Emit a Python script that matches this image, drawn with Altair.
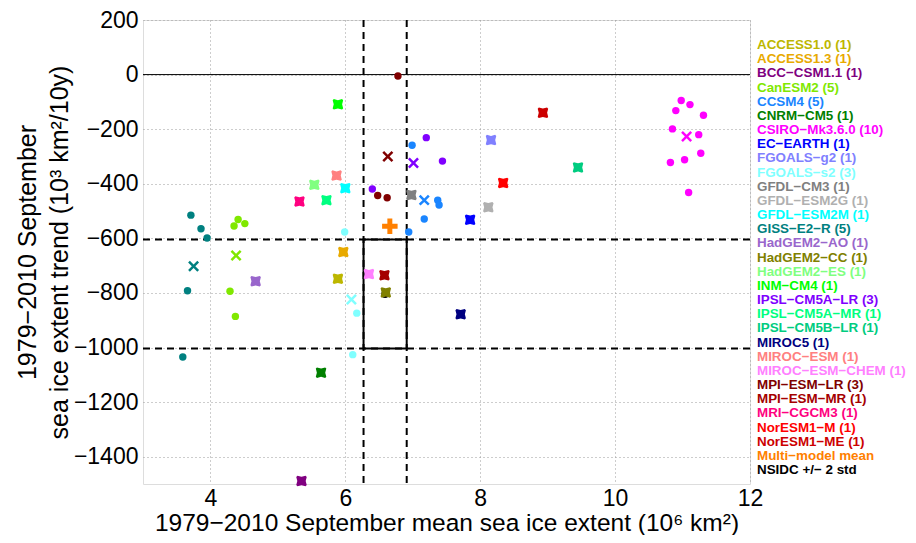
import altair as alt
import pandas as pd

# ---------------- data ----------------
models = ["ACCESS1.0", "ACCESS1.3", "BCC-CSM1.1", "CanESM2", "CCSM4", "CNRM-CM5",
          "CSIRO-Mk3.6.0", "EC-EARTH", "FGOALS-g2", "FGOALS-s2", "GFDL-CM3",
          "GFDL-ESM2G", "GFDL-ESM2M", "GISS-E2-R", "HadGEM2-AO", "HadGEM2-CC",
          "HadGEM2-ES", "INM-CM4", "IPSL-CM5A-LR", "IPSL-CM5A-MR", "IPSL-CM5B-LR",
          "MIROC5", "MIROC-ESM", "MIROC-ESM-CHEM", "MPI-ESM-LR", "MPI-ESM-MR",
          "MRI-CGCM3", "NorESM1-M", "NorESM1-ME"]
counts = [1, 1, 1, 5, 5, 1, 10, 1, 1, 3, 1, 1, 1, 5, 1, 1, 1, 1, 3, 1, 1, 1, 1, 1, 3, 1, 1, 1, 1]
colors = ["#BDB700", "#E8AA00", "#800080", "#80E800", "#1A85FF", "#008000",
          "#FF00FF", "#0000FF", "#8080FF", "#80FFFF", "#808080",
          "#B0B0B0", "#00FFFF", "#008080", "#9966CC", "#808000",
          "#80FF80", "#00FF00", "#8000FF", "#00FF80", "#00CC80",
          "#000080", "#FF8080", "#FF80FF", "#800000", "#A50000",
          "#FF0080", "#FF0000", "#CC0000"]

# ensemble-mean (or single-run) values per model
mean_extent = [5.89, 5.97, 5.35, 4.38, 7.17, 5.64, 11.06, 7.85, 8.16, 6.09, 6.98,
               8.12, 6.00, 3.75, 4.67, 6.60, 5.54, 5.89, 7.01, 5.72, 9.45,
               7.71, 5.87, 6.35, 6.63, 6.58, 5.32, 8.34, 8.93]
mean_trend = [-748, -650, -1489, -663, -460, -1092, -227, -532, -240, -824, -441,
              -486, -416, -702, -757, -798, -404, -109, -324, -460, -340,
              -878, -370, -731, -300, -735, -465, -397, -140]

# individual ensemble members
member_model = (["CanESM2"] * 5 + ["CCSM4"] * 5 + ["CSIRO-Mk3.6.0"] * 10 +
                ["FGOALS-s2"] * 3 + ["GISS-E2-R"] * 5 + ["IPSL-CM5A-LR"] * 3 +
                ["MPI-ESM-LR"] * 3)
member_extent = [4.41, 4.35, 4.51, 4.29, 4.37,
                 6.99, 7.37, 7.39, 7.17, 6.94,
                 10.98, 11.11, 10.90, 11.31, 10.85, 11.24, 11.27, 11.03, 10.82, 11.09,
                 5.99, 6.17, 6.11,
                 3.71, 3.86, 3.95, 3.66, 3.59,
                 7.20, 7.44, 6.40,
                 6.78, 6.48, 6.62]
member_trend = [-531, -555, -546, -794, -886,
                -259, -460, -478, -529, -577,
                -95, -110, -132, -149, -199, -220, -288, -312, -322, -432,
                -577, -874, -1026,
                -515, -565, -599, -792, -1035,
                -231, -317, -419,
                -5, -443, -451]

mmm_extent = [6.66]
mmm_trend = [-556]

obs_extent = [6.59]
obs_trend = [-804]
obs_2std_extent = [0.32]
obs_2std_trend = [200]

x_ticks = [4, 6, 8, 10, 12]
y_ticks = [200, 0, -200, -400, -600, -800, -1000, -1200, -1400]
zero_line = [0]

# ---------------- tables ----------------
all_keys = models + ["Multi-model mean", "NSIDC"]
all_colors = colors + ["#FF8000", "#000000"]
color_scale = alt.Scale(domain=all_keys, range=all_colors)

means = pd.DataFrame({"model": models, "x": mean_extent, "y": mean_trend, "n": counts})
singles = means[means.n == 1]
ens = means[means.n > 1]
members = pd.DataFrame({"model": member_model, "x": member_extent, "y": member_trend})
mmm = pd.DataFrame({"model": ["Multi-model mean"], "x": mmm_extent, "y": mmm_trend})
obs = pd.DataFrame({"model": ["NSIDC"], "x": obs_extent, "y": obs_trend})
box = pd.DataFrame({"x": [obs_extent[0] - obs_2std_extent[0]],
                    "x2": [obs_extent[0] + obs_2std_extent[0]],
                    "y": [obs_trend[0] + obs_2std_trend[0]],
                    "y2": [obs_trend[0] - obs_2std_trend[0]]})
vlines = pd.DataFrame({"x": [box.x[0], box.x2[0]]})
hlines = pd.DataFrame({"y": [box.y[0], box.y2[0]]})
zero_df = pd.DataFrame({"y": zero_line})

legend_labels = [f"{m} ({n})".replace("-", "\u2212") for m, n in zip(models, counts)]
legend_labels += ["Multi\u2212model mean", "NSIDC +/\u2212 2 std"]
legend_df = pd.DataFrame({"model": all_keys, "label": legend_labels})

FONT = "Liberation Sans"
W, H = 607, 464
xs = alt.Scale(domain=[3, 12], nice=False, zero=False)
ys = alt.Scale(domain=[-1500, 200], nice=False, zero=False)

X = alt.X("x:Q", scale=xs,
          axis=alt.Axis(values=x_ticks, format="d",
                        title="1979\u22122010 September mean sea ice extent (10\u2076 km\u00b2)",
                        grid=True, gridColor="#9a9a9a", gridDash=[1, 3], gridWidth=1,
                        ticks=False, domain=False, labelFontSize=23, titleFontSize=24.5,
                        labelFont=FONT, titleFont=FONT, titleFontWeight="normal",
                        labelColor="black", titleColor="black", labelPadding=3, titlePadding=1,
                        labelFlush=False))
Y = alt.Y("y:Q", scale=ys,
          axis=alt.Axis(values=y_ticks, format="d",
                        labelExpr="replace(datum.label, '-', '\u2212')",
                        title=["1979\u22122010 September", "sea ice extent trend (10\u00b3 km\u00b2/10y)"],
                        grid=True, gridColor="#9a9a9a", gridDash=[1, 3], gridWidth=1,
                        ticks=False, domain=False, labelFontSize=23, titleFontSize=25,
                        labelFont=FONT, titleFont=FONT, titleFontWeight="normal",
                        labelColor="black", titleColor="black", labelPadding=5, titlePadding=1,
                        titleLineHeight=32, labelFlush=False))

THICK_X = "M-1,-0.78 L-0.78,-1 L0,-0.8 L0.78,-1 L1,-0.78 L0.8,0 L1,0.78 L0.78,1 L0,0.8 L-0.78,1 L-1,0.78 L-0.8,0 Z"
THIN_X = "M-1,-0.68 L-0.68,-1 L0,-0.32 L0.68,-1 L1,-0.68 L0.32,0 L1,0.68 L0.68,1 L0,0.32 L-0.68,1 L-1,0.68 L-0.32,0 Z"
PLUS = "M-1,-0.32 L-0.32,-0.32 L-0.32,-1 L0.32,-1 L0.32,-0.32 L1,-0.32 L1,0.32 L0.32,0.32 L0.32,1 L-0.32,1 L-0.32,0.32 L-1,0.32 Z"

C = alt.Color("model:N", scale=color_scale, legend=None)

axes_layer = alt.Chart(zero_df).mark_rule(color="black", strokeWidth=1).encode(x=alt.value(0), x2=alt.value(W), y=Y)
vline_layer = alt.Chart(vlines).mark_rule(color="black", strokeWidth=2, strokeDash=[7, 5]).encode(
    x=alt.X("x:Q", scale=xs), y=alt.value(0), y2=alt.value(H))
hline_layer = alt.Chart(hlines).mark_rule(color="black", strokeWidth=2, strokeDash=[7, 5]).encode(
    y=alt.Y("y:Q", scale=ys), x=alt.value(0), x2=alt.value(W))
box_layer = alt.Chart(box).mark_rect(fill=None, stroke="black", strokeWidth=2).encode(
    x=alt.X("x:Q", scale=xs), x2="x2:Q", y=alt.Y("y:Q", scale=ys), y2="y2:Q")
obs_layer = alt.Chart(obs).mark_circle(size=60, opacity=1).encode(x=alt.X("x:Q", scale=xs), y=alt.Y("y:Q", scale=ys), color=C)
member_layer = alt.Chart(members).mark_circle(size=55, opacity=1).encode(
    x=alt.X("x:Q", scale=xs), y=alt.Y("y:Q", scale=ys), color=C)
single_layer = alt.Chart(singles).mark_point(shape=THICK_X, filled=True, size=110, opacity=1, strokeWidth=0).encode(
    x=alt.X("x:Q", scale=xs), y=alt.Y("y:Q", scale=ys), color=C)
ens_layer = alt.Chart(ens).mark_point(shape=THIN_X, filled=True, size=120, opacity=1, strokeWidth=0).encode(
    x=alt.X("x:Q", scale=xs), y=alt.Y("y:Q", scale=ys), color=C)
mmm_layer = alt.Chart(mmm).mark_point(shape=PLUS, filled=True, size=240, opacity=1, strokeWidth=0).encode(
    x=alt.X("x:Q", scale=xs), y=alt.Y("y:Q", scale=ys), color=C)
base_layer = alt.Chart(means).mark_point(opacity=0).encode(x=X, y=Y)

main = alt.layer(base_layer, axes_layer, vline_layer, hline_layer, box_layer, obs_layer,
                 member_layer, single_layer, ens_layer, mmm_layer)

legend_layer = alt.Chart(legend_df).mark_text(align="left", baseline="middle", font=FONT,
                                              fontWeight="bold", fontSize=13.4).encode(
    x=alt.value(614),
    y=alt.Y("label:N", sort=legend_labels, axis=None,
            scale=alt.Scale(type="point", range=[25, 450], padding=0)),
    text="label:N", color=C)

chart = alt.layer(main, legend_layer).resolve_scale(y="independent").properties(
    width=W, height=H,
    autosize=alt.AutoSizeParams(type="none"),
    padding={"left": 135, "top": 12, "right": 158, "bottom": 51},
).configure_view(stroke="black", strokeWidth=1.3).configure(background="white")

chart.save("out.html", embed_options={"renderer": "svg", "actions": False})
